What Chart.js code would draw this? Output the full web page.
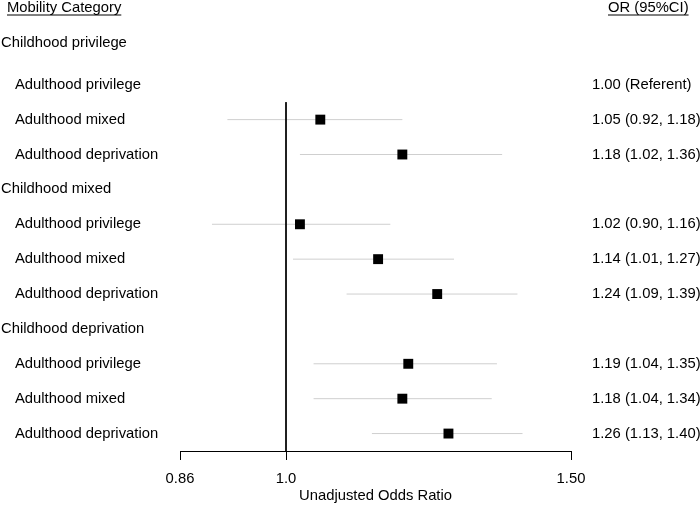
<!DOCTYPE html>
<html>
<head>
<meta charset="utf-8">
<script src="https://cdn.jsdelivr.net/npm/chart.js@4"></script>
<style>
  html, body { margin: 0; padding: 0; background: #fff; }
</style>
</head>
<body>
<canvas id="forest" width="700" height="505"></canvas>
<script>
// data
const childhoodGroups = ['Childhood privilege', 'Childhood mixed', 'Childhood deprivation'];
const adulthoodCats = ['Adulthood privilege', 'Adulthood mixed', 'Adulthood deprivation'];
const oddsRatio = [1.00, 1.05, 1.18, 1.02, 1.14, 1.24, 1.19, 1.18, 1.26];
const ciLower = [null, 0.92, 1.02, 0.90, 1.01, 1.09, 1.04, 1.04, 1.13];
const ciUpper = [null, 1.18, 1.36, 1.16, 1.27, 1.39, 1.35, 1.34, 1.40];
const xTicks = [0.86, 1.0, 1.50];
const xTickLabels = ['0.86', '1.0', '1.50'];

const FONT = '"Liberation Sans", Arial, sans-serif';
const FS = 14.8;

// each childhood group takes a header row then three adulthood rows
let rows = [];
childhoodGroups.forEach((g, gi) => {
  rows.push({ label: g, header: true, row: gi * 4 });
  adulthoodCats.forEach((a, ai) => {
    let k = gi * 3 + ai;
    rows.push({ label: a, header: false, row: gi * 4 + 1 + ai, k: k });
  });
});

function orText(k) {
  if (ciLower[k] == null) return oddsRatio[k].toFixed(2) + ' (Referent)';
  return oddsRatio[k].toFixed(2) + ' (' + ciLower[k].toFixed(2) + ', ' + ciUpper[k].toFixed(2) + ')';
}

let datasets = [];
// confidence interval whiskers
rows.filter(r => !r.header && ciLower[r.k] != null).forEach(r => {
  datasets.push({
    type: 'line',
    order: 2,
    data: [{ x: ciLower[r.k], y: r.row }, { x: ciUpper[r.k], y: r.row }],
    borderColor: '#cfcfcf',
    borderWidth: 1,
    pointRadius: 0,
    fill: false
  });
});
// null line at OR = 1
datasets.push({
  type: 'line',
  order: 1,
  data: [{ x: 1.0, y: 1.5 }, { x: 1.0, y: 11.5 }],
  borderColor: '#000',
  borderWidth: 1,
  pointRadius: 0,
  fill: false
});
// point estimates, drawn on top
datasets.push({
  type: 'scatter',
  order: 0,
  data: rows.filter(r => !r.header && ciLower[r.k] != null).map(r => ({ x: oddsRatio[r.k], y: r.row })),
  pointStyle: 'rect',
  pointRadius: 7,
  backgroundColor: '#000',
  borderColor: '#000',
  borderWidth: 0
});

const textPlugin = {
  id: 'forestText',
  afterDraw(chart) {
    const ctx = chart.ctx;
    const ys = chart.scales.y;
    ctx.save();
    ctx.fillStyle = '#000';
    ctx.strokeStyle = '#000';
    ctx.font = FS + 'px ' + FONT;
    ctx.textBaseline = 'middle';
    ctx.textAlign = 'left';

    // column headers, underlined
    const headY = ys.getPixelForValue(-1.2);
    [['Mobility Category', 7], ['OR (95%CI)', 608]].forEach(h => {
      ctx.fillText(h[0], h[1], headY);
      let w = ctx.measureText(h[0]).width;
      ctx.lineWidth = 1;
      ctx.beginPath();
      ctx.moveTo(h[1], headY + 7);
      ctx.lineTo(h[1] + w, headY + 7);
      ctx.stroke();
    });

    rows.forEach(r => {
      if (r.header) {
        let v = r.row === 0 ? -0.2 : r.row;
        ctx.fillText(r.label, 1, ys.getPixelForValue(v));
      } else {
        let y = ys.getPixelForValue(r.row);
        ctx.fillText(r.label, 15, y);
        ctx.fillText(orText(r.k), 592, y);
      }
    });
    ctx.restore();
  }
};

new Chart(document.getElementById('forest'), {
  type: 'scatter',
  data: { datasets: datasets },
  options: {
    responsive: false,
    animation: false,
    layout: { padding: { left: 180, right: 129, top: 8, bottom: 0 } },
    plugins: { legend: { display: false }, tooltip: { enabled: false } },
    scales: {
      x: {
        type: 'logarithmic',
        min: 0.86,
        max: 1.5,
        afterBuildTicks(scale) {
          scale.ticks = xTicks.map(v => ({ value: v }));
        },
        afterFit(scale) { scale.height = 54; },
        grid: { drawOnChartArea: false, drawTicks: true, tickLength: 9, color: '#000', lineWidth: 1 },
        border: { color: '#000', width: 1 },
        ticks: {
          color: '#000',
          font: { family: FONT, size: FS },
          padding: 10,
          autoSkip: false,
          maxRotation: 0,
          callback(value) {
            let i = xTicks.indexOf(value);
            return i >= 0 ? xTickLabels[i] : '';
          }
        },
        title: {
          display: true,
          text: 'Unadjusted Odds Ratio',
          color: '#000',
          font: { family: FONT, size: FS },
          padding: { top: 0, bottom: 0 }
        }
      },
      y: {
        type: 'linear',
        reverse: true,
        min: -1.2,
        max: 11.5,
        display: false
      }
    }
  },
  plugins: [textPlugin]
});
</script>
</body>
</html>
